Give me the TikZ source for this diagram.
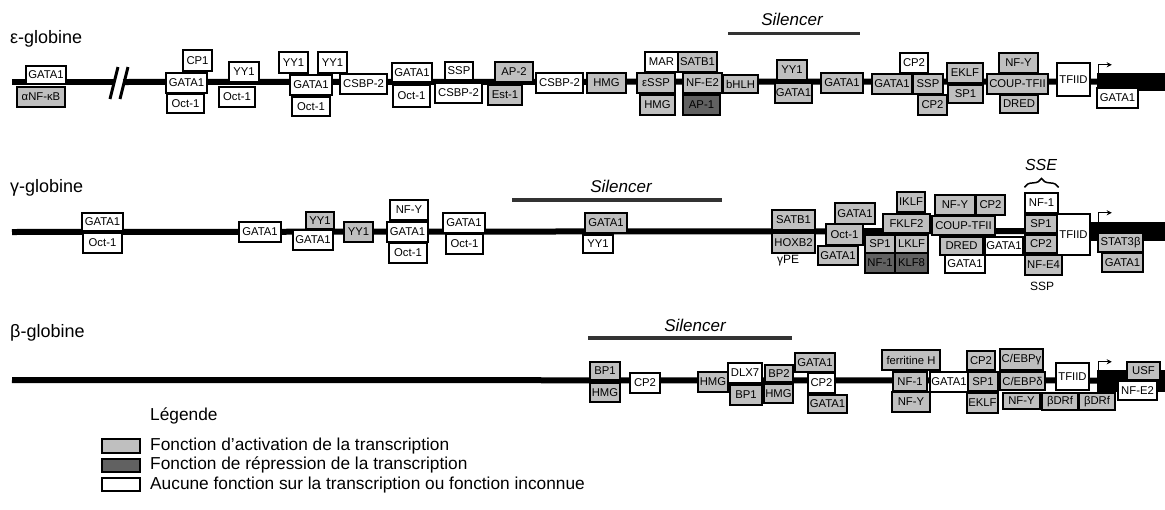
\documentclass[tikz,border=0pt]{standalone}
\usepackage{fontspec}
\setmainfont{Liberation Sans}
\usetikzlibrary{arrows.meta,decorations.pathreplacing}
\newcommand{\tfb}[7]{\node[tf,#6,minimum width={#4-#2},minimum height={#5-#3}] (#1) at ({(#2+#4)/2},{(#3+#5)/2}) {#7};}
\begin{document}
\begin{tikzpicture}[x=1pt,y=-1pt,
 tf/.style={draw=black, line width=1.2pt, fill=white, inner sep=0.3pt, font=\fontsize{11.3}{12}\selectfont},
 act/.style={fill=black!25},
 rep/.style={fill=black!62},
 non/.style={fill=white},
 gene/.style={fill=black, draw=black, line width=0.5pt},
 dna/.style={line width=6pt},
 sil/.style={line width=3.5pt, black!80},
 lab/.style={inner sep=0, anchor=base west, font=\fontsize{18}{21}\selectfont},
 siltxt/.style={inner sep=0, anchor=base, font=\fontsize{17}{20}\selectfont\itshape},
 small/.style={inner sep=0, font=\fontsize{12}{14}\selectfont},
 tss/.style={line width=1.2pt, -{Stealth[length=5pt,width=5pt]}},
 brk/.style={line width=3pt},
 legtxt/.style={inner sep=0, anchor=west, font=\fontsize{17.3}{19}\selectfont}]
\useasboundingbox (0,0) rectangle (1165,509);

% ---------- labels ----------
\node[lab] (lblE) at (10,43) {ε-globine};
\node[lab] (lblG) at (10,192) {γ-globine};
\node[lab] (lblB) at (10,337) {β-globine};

% ---------- silencers ----------
\node[siltxt] (silE) at (792,25) {Silencer};
\coordinate (sE1) at (728,33.5); \coordinate (sE2) at (860,33.5);
\draw[sil] (sE1) -- (sE2);
\node[siltxt] (silG) at (621,192) {Silencer};
\coordinate (sG1) at (512,200); \coordinate (sG2) at (722,200);
\draw[sil] (sG1) -- (sG2);
\node[siltxt] (silB) at (695,331) {Silencer};
\coordinate (sB1) at (588,338); \coordinate (sB2) at (792,338);
\draw[sil] (sB1) -- (sB2);

% ---------- gene blocks ----------
\tfb{e_gene}{1097}{73}{1165}{90}{gene}{}
\tfb{g_gene}{1090}{222}{1165}{240}{gene}{}
\tfb{b_gene}{1097}{370}{1165}{391}{gene}{}

% ---------- DNA lines ----------
\coordinate (eL) at (12,82); \coordinate (eB1) at (114,82); \coordinate (eB2) at (123,82);
\draw[dna] (eL) -- (eB1);
\draw[dna] (eB2) -- (e_gene.west);
\coordinate (k1a) at (110,99); \coordinate (k1b) at (118,67);
\coordinate (k2a) at (120,99); \coordinate (k2b) at (128,67);
\draw[brk] (k1a) -- (k1b);
\draw[brk] (k2a) -- (k2b);
\coordinate (gL) at (12,232);
\draw[dna] (gL) -- (g_gene.west);
\coordinate (bL) at (12,380);
\draw[dna] (bL) -- (b_gene.west);

% ---------- TSS arrows ----------
\draw[tss] ([xshift=2pt]e_gene.north west) |- ++(13,-8);
\draw[tss] ([xshift=9pt]g_gene.north west) |- ++(13,-9);
\draw[tss] ([xshift=2pt]b_gene.north west) |- ++(13,-8);

% ---------- epsilon ----------
\tfb{e1}{26}{66}{66}{84}{non}{GATA1}
\tfb{e2}{17}{87}{65}{107}{act}{αNF-κB}
\tfb{e3}{183}{50}{212}{71}{non}{CP1}
\tfb{e4}{166}{73}{207}{93}{non}{GATA1}
\tfb{e5}{167}{94}{204}{113}{non}{Oct-1}
\tfb{e6}{229}{62}{259}{82}{non}{YY1}
\tfb{e7}{219}{87}{255}{107}{non}{Oct-1}
\tfb{e8}{279}{52}{308}{73}{non}{YY1}
\tfb{e9}{318}{52}{347}{73}{non}{YY1}
\tfb{e10}{290}{75}{332}{95}{non}{GATA1}
\tfb{e11}{292}{97}{330}{116}{non}{Oct-1}
\tfb{e12}{340}{74}{387}{94}{non}{CSBP-2}
\tfb{e13}{392}{63}{432}{82}{non}{GATA1}
\tfb{e14}{393}{85}{430}{107}{non}{Oct-1}
\tfb{e15}{445}{62}{473}{80}{non}{SSP}
\tfb{e16}{435}{83}{482}{103}{non}{CSBP-2}
\tfb{e17}{495}{62}{533}{82}{act}{AP-2}
\tfb{e18}{488}{85}{522}{105}{act}{Est-1}
\tfb{e19}{536}{73}{583}{93}{non}{CSBP-2}
\tfb{e20}{587}{73}{626}{93}{act}{HMG}
\tfb{e21}{637}{73}{675}{93}{act}{εSSP}
\tfb{e22}{645}{52}{678}{72}{non}{MAR}
\tfb{e23}{678}{52}{717}{72}{act}{SATB1}
\tfb{e24}{640}{95}{675}{115}{act}{HMG}
\tfb{e25}{683}{73}{722}{93}{act}{NF-E2}
\tfb{e26}{683}{95}{720}{115}{rep}{AP-1}
\tfb{e27}{723}{75}{758}{93}{act}{bHLH}
\tfb{e28}{777}{60}{807}{80}{act}{YY1}
\tfb{e29}{775}{83}{812}{103}{act}{GATA1}
\tfb{e30}{821}{73}{863}{93}{act}{GATA1}
\tfb{e31}{872}{74}{912}{94}{act}{GATA1}
\tfb{e32}{900}{53}{928}{73}{non}{CP2}
\tfb{e33}{913}{74}{943}{94}{act}{SSP}
\tfb{e34}{918}{95}{947}{115}{act}{CP2}
\tfb{e35}{947}{63}{983}{83}{act}{EKLF}
\tfb{e36}{948}{85}{983}{103}{act}{SP1}
\tfb{e37}{999}{53}{1038}{73}{act}{NF-Y}
\tfb{e38}{987}{74}{1048}{94}{act}{COUP-TFII}
\tfb{e39}{1000}{95}{1038}{113}{act}{DRED}
\tfb{e40}{1057}{63}{1090}{96}{non}{TFIID}
\tfb{e41}{1097}{88}{1138}{108}{non}{GATA1}

% ---------- gamma ----------
\tfb{g1}{82}{213}{123}{231}{non}{GATA1}
\tfb{g2}{83}{233}{122}{253}{non}{Oct-1}
\tfb{g3}{239}{222}{281}{242}{non}{GATA1}
\tfb{g4}{306}{212}{334}{229}{act}{YY1}
\tfb{g5}{293}{230}{333}{250}{non}{GATA1}
\tfb{g6}{344}{222}{373}{242}{act}{YY1}
\tfb{g7}{390}{200}{428}{220}{non}{NF-Y}
\tfb{g8}{387}{222}{428}{242}{non}{GATA1}
\tfb{g9}{389}{243}{427}{263}{non}{Oct-1}
\tfb{g10}{443}{213}{485}{233}{non}{GATA1}
\tfb{g11}{446}{234}{483}{254}{non}{Oct-1}
\tfb{g12}{585}{213}{627}{233}{act}{GATA1}
\tfb{g13}{583}{235}{613}{253}{non}{YY1}
\tfb{g14}{772}{210}{815}{230}{act}{SATB1}
\tfb{g15}{772}{233}{815}{253}{act}{HOXB2}
\node[small] (gPE) at (788,261) {γPE};
\tfb{g16}{835}{203}{875}{224}{act}{GATA1}
\tfb{g17}{826}{224}{863}{245}{act}{Oct-1}
\tfb{g18}{818}{246}{858}{265}{act}{GATA1}
\tfb{g19}{897}{192}{925}{212}{act}{IKLF}
\tfb{g20}{883}{214}{930}{233}{act}{FKLF2}
\tfb{g21}{865}{235}{895}{253}{act}{SP1}
\tfb{g22}{895}{235}{928}{253}{act}{LKLF}
\tfb{g23}{865}{253}{895}{273}{rep}{NF-1}
\tfb{g24}{895}{253}{928}{273}{rep}{KLF8}
\tfb{g25}{935}{195}{975}{215}{act}{NF-Y}
\tfb{g26}{976}{195}{1005}{215}{act}{CP2}
\tfb{g27}{932}{216}{995}{235}{act}{COUP-TFII}
\tfb{g28}{940}{237}{983}{255}{act}{DRED}
\tfb{g29}{985}{237}{1023}{255}{non}{GATA1}
\tfb{g30}{945}{255}{985}{273}{non}{GATA1}
\tfb{g31}{1025}{193}{1058}{213}{non}{NF-1}
\tfb{g32}{1025}{215}{1057}{233}{act}{SP1}
\tfb{g33}{1025}{235}{1057}{253}{act}{CP2}
\tfb{g34}{1025}{255}{1062}{275}{act}{NF-E4}
\node[small] (gSSP) at (1042,286) {SSP};
\tfb{g35}{1057}{214}{1090}{255}{non}{TFIID}
\tfb{g36}{1098}{233}{1143}{252}{act}{STAT3β}
\tfb{g37}{1102}{253}{1143}{272}{act}{GATA1}
\draw[line width=1.5pt, decorate, decoration={brace, amplitude=9pt}] ([yshift=5pt]g31.north west) -- ([yshift=5pt]g31.north east);
\node[siltxt, font=\fontsize{16}{19}\selectfont\itshape] (sse) at (1041,170) {SSE};

% ---------- beta ----------
\tfb{b1}{590}{362}{620}{380}{act}{BP1}
\tfb{b2}{590}{383}{620}{402}{act}{HMG}
\tfb{b3}{630}{373}{660}{393}{non}{CP2}
\tfb{b4}{698}{372}{728}{392}{act}{HMG}
\tfb{b5}{728}{363}{762}{383}{non}{DLX7}
\tfb{b6}{730}{385}{762}{405}{act}{BP1}
\tfb{b7}{765}{365}{793}{382}{act}{BP2}
\tfb{b8}{764}{384}{793}{403}{act}{HMG}
\tfb{b9}{795}{353}{835}{372}{act}{GATA1}
\tfb{b10}{808}{373}{835}{393}{non}{CP2}
\tfb{b11}{808}{395}{847}{413}{act}{GATA1}
\tfb{b12}{882}{350}{940}{370}{act}{ferritine H}
\tfb{b13}{893}{372}{927}{391}{act}{NF-1}
\tfb{b14}{892}{392}{930}{412}{act}{NF-Y}
\tfb{b15}{930}{372}{968}{392}{non}{GATA1}
\tfb{b16}{967}{351}{995}{370}{act}{CP2}
\tfb{b17}{968}{372}{998}{391}{act}{SP1}
\tfb{b18}{967}{393}{998}{413}{act}{EKLF}
\tfb{b19}{1000}{349}{1043}{370}{act}{C/EBPγ}
\tfb{b20}{1000}{372}{1045}{390}{act}{C/EBPδ}
\tfb{b21}{1003}{393}{1040}{409}{act}{NF-Y}
\tfb{b22}{1042}{393}{1078}{410}{act}{βDRf}
\tfb{b23}{1079}{393}{1115}{410}{act}{βDRf}
\tfb{b24}{1056}{363}{1089}{390}{non}{TFIID}
\tfb{b25}{1127}{362}{1160}{380}{act}{USF}
\tfb{b26}{1118}{381}{1157}{400}{non}{NF-E2}

% ---------- legend ----------
\node[legtxt] (legT) at (150,416) {Légende};
\tfb{lg1}{102}{439}{140}{453}{act}{}
\tfb{lg2}{102}{459}{140}{472}{rep}{}
\tfb{lg3}{102}{478}{140}{491}{non}{}
\node[legtxt] (lt1) at (150,446) {Fonction d'activation de la transcription};
\node[legtxt] (lt2) at (150,465) {Fonction de répression de la transcription};
\node[legtxt] (lt3) at (150,485) {Aucune fonction sur la transcription ou fonction inconnue};
\end{tikzpicture}
\end{document}
